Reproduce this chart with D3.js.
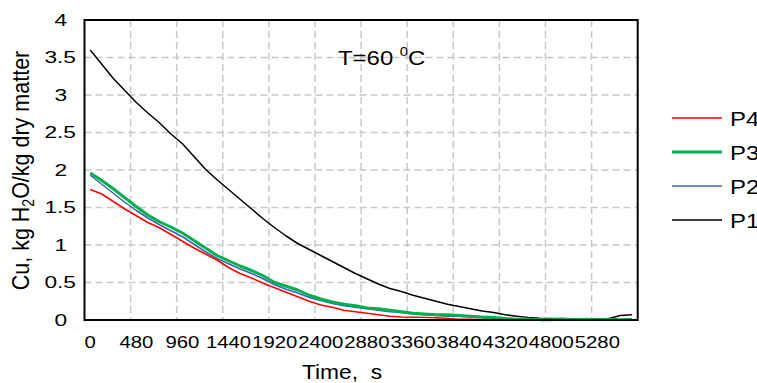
<!DOCTYPE html>
<html>
<head>
<meta charset="utf-8">
<script src="https://cdn.jsdelivr.net/npm/d3@7"></script>
<style>
  body { margin: 0; background: #fff; }
  svg { display: block; font-family: "Liberation Sans", Arial, sans-serif; }
</style>
</head>
<body>
<div id="chart"></div>
<script>
// drying time, s (one category every 120 s)
var times = [0,120,240,360,480,600,720,840,960,1080,1200,1320,1440,1560,1680,1800,
  1920,2040,2160,2280,2400,2520,2640,2760,2880,3000,3120,3240,3360,3480,3600,3720,
  3840,3960,4080,4200,4320,4440,4560,4680,4800,4920,5040,5160,5280,5400,5520,5640];

var p1 = [3.60,3.41,3.22,3.06,2.90,2.76,2.63,2.48,2.35,2.18,
  2.01,1.87,1.74,1.61,1.48,1.35,1.23,1.12,1.02,0.94,
  0.86,0.78,0.70,0.62,0.55,0.48,0.42,0.38,0.33,0.29,
  0.25,0.21,0.18,0.15,0.12,0.10,0.07,0.05,0.035,0.025,
  0.02,0.02,0.015,0.015,0.015,0.02,0.06,0.07];
var p2 = [1.93,1.81,1.69,1.57,1.46,1.36,1.27,1.19,1.11,1.01,
  0.91,0.82,0.75,0.68,0.62,0.55,0.47,0.41,0.36,0.30,
  0.26,0.22,0.19,0.17,0.15,0.13,0.11,0.10,0.08,0.07,
  0.06,0.05,0.05,0.04,0.03,0.02,0.02,0.01,0.01,0.01,
  0.005,0.005,0.01,0.005,0.005,0.01,0.005,0.005];
var p3 = [1.96,1.86,1.75,1.63,1.51,1.40,1.31,1.24,1.16,1.06,
  0.96,0.86,0.79,0.72,0.66,0.59,0.50,0.45,0.40,0.33,
  0.28,0.24,0.21,0.19,0.16,0.15,0.13,0.11,0.09,0.08,
  0.07,0.07,0.06,0.05,0.04,0.035,0.02,0.01,0.01,0.005,
  0.005,0.01,0.005,0.01,0.005,0.01,0.005,0.01];
var p4 = [1.74,1.68,1.58,1.48,1.39,1.30,1.23,1.14,1.05,0.96,
  0.88,0.80,0.70,0.62,0.56,0.49,0.43,0.37,0.31,0.25,
  0.20,0.17,0.13,0.11,0.09,0.07,0.05,0.04,0.036,0.035,
  0.03,0.02,0.01,0.01,0.005,0.005,0.005,0,0,0,
  0,0,0,0,0,0,0,0];

var xTickLabels = [0,480,960,1440,1920,2400,2880,3360,3840,4320,4800,5280];
var yTicks = [0,0.5,1,1.5,2,2.5,3,3.5,4];

// drawing order (legend shows them reversed)
var series = [
  { name: "P1", values: p1, color: "#000000", width: 1.5 },
  { name: "P2", values: p2, color: "#3c62ad", width: 1.5 },
  { name: "P3", values: p3, color: "#00b050", width: 3 },
  { name: "P4", values: p4, color: "#ff0000", width: 1.5 }
];

var width = 757, height = 383;
var plotL = 84.5, plotR = 637.7, plotT = 20, plotB = 320;
var sx = 1.14;    // the picture is a bit wide, stretch text the same way
var sxTick = 1.27;
var sxY = 1.42;

var svg = d3.select("#chart").append("svg")
    .attr("width", width)
    .attr("height", height);

var x = d3.scaleBand()
    .domain(times)
    .range([plotL, plotR])
    .paddingInner(0).paddingOuter(0);

var y = d3.scaleLinear()
    .domain([0, 4])
    .range([plotB, plotT]);

var bw = x.bandwidth();

// grid
var grid = svg.append("g")
    .attr("stroke", "#c8c8c8")
    .attr("stroke-width", 1.5)
    .attr("stroke-dasharray", "7,4");

grid.selectAll("line.h")
    .data(yTicks.filter(function(d) { return d > 0 && d < 4; }))
    .enter().append("line")
    .attr("class", "h")
    .attr("x1", plotL).attr("x2", plotR)
    .attr("y1", function(d) { return y(d); })
    .attr("y2", function(d) { return y(d); });

grid.selectAll("line.v")
    .data(xTickLabels.filter(function(d) { return d > 0; }))
    .enter().append("line")
    .attr("class", "v")
    .attr("x1", function(d) { return x(d); })
    .attr("x2", function(d) { return x(d); })
    .attr("y1", plotT).attr("y2", plotB);

// lines
var line = d3.line()
    .x(function(d, i) { return x(times[i]) + bw / 2; })
    .y(function(d) { return y(d); });

svg.selectAll("path.series")
    .data(series)
    .enter().append("path")
    .attr("class", "series")
    .attr("fill", "none")
    .attr("stroke", function(d) { return d.color; })
    .attr("stroke-width", function(d) { return d.width; })
    .attr("stroke-linejoin", "round")
    .attr("d", function(d) { return line(d.values); });

// frame
svg.append("rect")
    .attr("x", plotL).attr("y", plotT)
    .attr("width", plotR - plotL).attr("height", plotB - plotT)
    .attr("fill", "none")
    .attr("stroke", "#000")
    .attr("stroke-width", 2);

// axes
var xAxis = d3.axisBottom(x)
    .tickValues(xTickLabels)
    .tickSize(0)
    .tickPadding(17);

var gx = svg.append("g")
    .attr("transform", "translate(0," + plotB + ")")
    .call(xAxis);
gx.select(".domain").remove();
gx.selectAll("text")
    .attr("font-size", 16)
    .attr("font-family", "Liberation Sans, Arial, sans-serif")
    .attr("fill", "#000")
    .attr("transform", "scale(" + sxTick + ",1)");

var yAxis = d3.axisLeft(y)
    .tickValues(yTicks)
    .tickFormat(d3.format("~g"))
    .tickSize(0)
    .tickPadding(0);

var gy = svg.append("g")
    .attr("transform", "translate(" + plotL + ",0)")
    .call(yAxis);
gy.select(".domain").remove();
// whole numbers sit a little further left than the .5 labels
gy.selectAll("text")
    .attr("x", function(d) { return (d % 1 === 0 ? -17.5 : -8.5) / sxY; })
    .attr("font-size", 16)
    .attr("font-family", "Liberation Sans, Arial, sans-serif")
    .attr("fill", "#000")
    .attr("transform", "scale(" + sxY + ",1)");

// axis titles
svg.append("text")
    .attr("transform", "translate(342,379) scale(" + sx + ",1)")
    .attr("text-anchor", "middle")
    .attr("font-size", 20)
    .style("white-space", "pre")
    .text("Time,  s");

var yt = svg.append("text")
    .attr("transform", "translate(29,170.5) rotate(-90) scale(1," + sx + ")")
    .attr("text-anchor", "middle")
    .attr("font-size", 21.5);
yt.append("tspan").text("Cu, kg H");
yt.append("tspan").attr("font-size", 14).attr("dy", 4).text("2");
yt.append("tspan").attr("dy", -4).text("O/kg dry matter");

// temperature note
var note = svg.append("text")
    .attr("transform", "translate(338,65) scale(" + sx + ",1)")
    .attr("font-size", 21)
    .style("white-space", "pre");
note.append("tspan").text("T=60 ");
note.append("tspan").attr("font-size", 13).attr("dy", -9).text("0");
note.append("tspan").attr("dy", 9).text("C");

// legend
var legendY = [118, 152, 186, 220];
var legendSeries = series.slice().reverse();
var lg = svg.selectAll("g.legend")
    .data(legendSeries)
    .enter().append("g")
    .attr("class", "legend")
    .attr("transform", function(d, i) { return "translate(0," + legendY[i] + ")"; });

lg.append("line")
    .attr("x1", 672).attr("x2", 722)
    .attr("y1", 0).attr("y2", 0)
    .attr("stroke", function(d) { return d.color; })
    .attr("stroke-width", function(d) { return d.width; });

lg.append("text")
    .attr("transform", "translate(730,7.5) scale(" + sx + ",1)")
    .attr("font-size", 21)
    .text(function(d) { return d.name; });
</script>
</body>
</html>
